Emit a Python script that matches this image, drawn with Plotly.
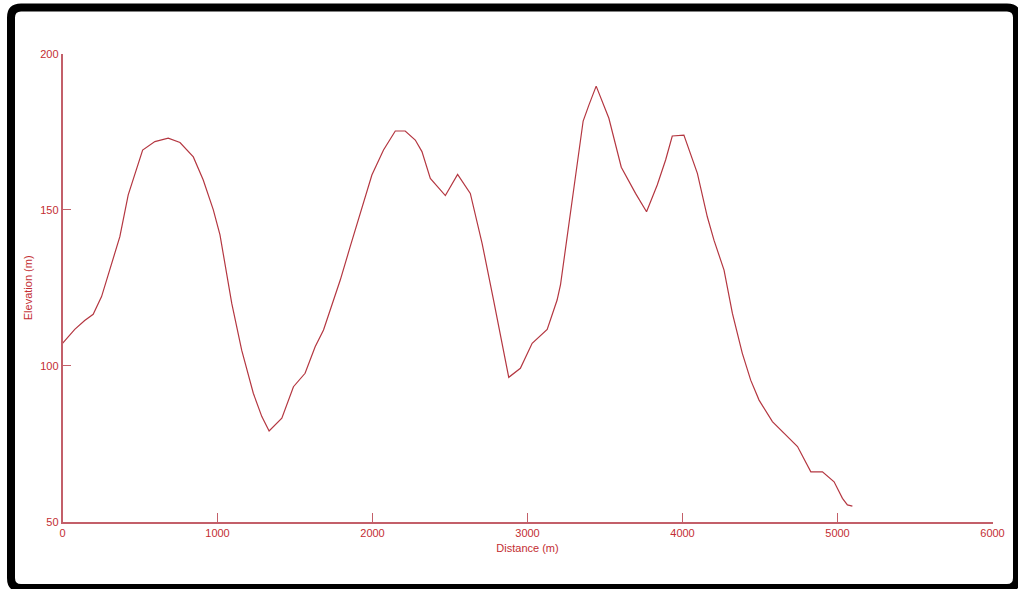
import plotly.graph_objects as go

# Elevation profile along the route
distance_m = [0, 79, 143, 198, 252, 316, 370, 424, 478, 517, 596, 682, 758, 844, 908,
              973, 1016, 1092, 1156, 1231, 1286, 1333, 1415, 1490, 1565, 1630, 1684,
              1748, 1792, 1856, 1953, 1996, 2071, 2147, 2211, 2276, 2319, 2373, 2470,
              2549, 2631, 2707, 2781, 2836, 2879, 2954, 3030, 3127, 3191, 3213, 3256,
              3309, 3359, 3396, 3443, 3525, 3605, 3697, 3768, 3837, 3891, 3934, 4009,
              4096, 4160, 4203, 4268, 4322, 4386, 4440, 4494, 4580, 4655, 4742, 4828,
              4903, 4978, 5032, 5064, 5096]
elevation_m = [107.2, 111.7, 114.5, 116.5, 122.2, 132.9, 141.4, 154.8, 162.8, 169.2,
               171.9, 173.0, 171.6, 167.0, 159.6, 150.0, 142.0, 120.0, 105.0, 91.2,
               83.7, 79.1, 83.2, 93.3, 97.6, 106.1, 111.5, 121.1, 127.5, 138.2, 154.2,
               161.2, 169.2, 175.3, 175.3, 172.4, 168.7, 160.1, 154.6, 161.4, 155.3,
               139.3, 121.1, 107.2, 96.3, 99.2, 107.2, 111.7, 121.1, 126.0, 141.0,
               159.5, 178.5, 183.6, 189.7, 179.4, 163.7, 155.3, 149.4, 158.0, 166.0,
               173.7, 174.0, 161.7, 147.8, 140.3, 130.7, 116.8, 104.0, 95.4, 89.0,
               82.1, 78.4, 74.1, 66.0, 66.0, 62.8, 57.5, 55.4, 55.0]

x_ticks = [0, 1000, 2000, 3000, 4000, 5000, 6000]
y_ticks = [50, 100, 150, 200]

W, H = 1018, 589
LINE_RED = "rgb(180,55,65)"
AXIS_RED = "rgb(195,95,105)"
TEXT_RED = "rgb(195,45,50)"
FONT = "Liberation Sans"

fig = go.Figure()
fig.add_trace(go.Scatter(
    x=distance_m, y=elevation_m, mode="lines",
    line=dict(color=LINE_RED, width=1.2),
    showlegend=False, hoverinfo="skip",
))

def px(x):
    return x / W

def py(y):
    return 1 - y / H

# black rounded frame around the chart
x0, x1, y0, y1, r = px(11), px(1017), py(7.5), py(588), 10
rx, ry = r / W, r / H
frame = (f"M {x0+rx},{y0} L {x1-rx},{y0} Q {x1},{y0} {x1},{y0-ry} "
         f"L {x1},{y1+ry} Q {x1},{y1} {x1-rx},{y1} "
         f"L {x0+rx},{y1} Q {x0},{y1} {x0},{y1+ry} "
         f"L {x0},{y0-ry} Q {x0},{y0} {x0+rx},{y0} Z")

fig.update_layout(
    width=W, height=H,
    margin=dict(l=0, r=0, t=0, b=0, pad=0, autoexpand=False),
    paper_bgcolor="white", plot_bgcolor="white",
    font=dict(family=FONT, size=11, color=TEXT_RED),
    xaxis=dict(
        domain=[px(62.5), px(992.5)], range=[0, 6000], automargin=False,
        tickvals=x_ticks, ticktext=[str(v) for v in x_ticks],
        showline=True, linecolor=AXIS_RED, linewidth=1.5,
        ticks="inside", ticklen=9, tickcolor=AXIS_RED, tickwidth=1.2,
        showgrid=False, zeroline=False,
        tickfont=dict(family=FONT, size=11, color=TEXT_RED),
        title=dict(text="Distance (m)", standoff=7,
                   font=dict(family=FONT, size=11, color=TEXT_RED)),
    ),
    yaxis=dict(
        domain=[py(521.7), py(54)], range=[50, 200], automargin=False,
        tickvals=y_ticks, ticktext=[str(v) for v in y_ticks],
        showline=True, linecolor=AXIS_RED, linewidth=1.5,
        ticks="inside", ticklen=9, tickcolor=AXIS_RED, tickwidth=1.2,
        showgrid=False, zeroline=False,
        tickfont=dict(family=FONT, size=11, color=TEXT_RED),
        title=dict(text="Elevation (m)", standoff=5,
                   font=dict(family=FONT, size=11, color=TEXT_RED)),
    ),
    shapes=[dict(type="path", xref="paper", yref="paper", path=frame,
                 line=dict(color="black", width=8), layer="above")],
)

fig.write_html("out.html")
